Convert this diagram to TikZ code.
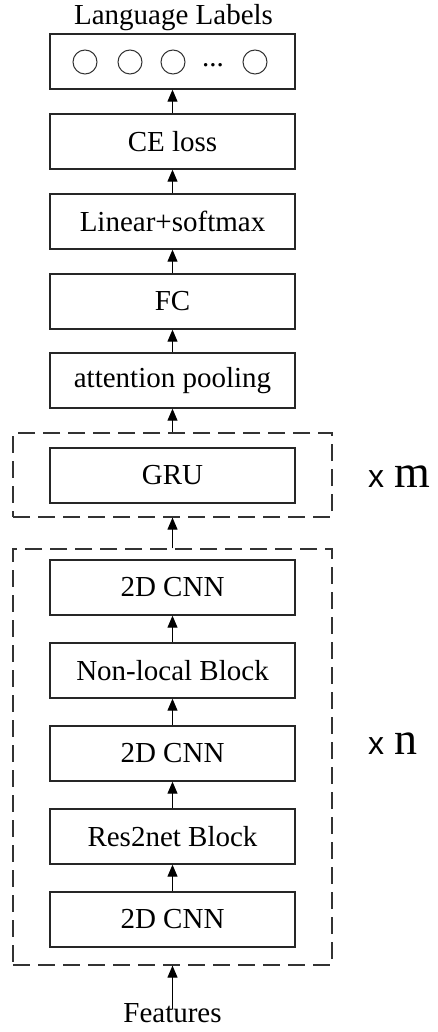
\documentclass[tikz,border=0pt]{standalone}
\usepackage{fontspec}
\setmainfont{Liberation Serif}
\newfontfamily\xsans{Liberation Sans}
\usetikzlibrary{arrows.meta}
\begin{document}
\begin{tikzpicture}[x=1pt,y=-1pt,
  blk/.style={draw=black!85, line width=1.4pt, minimum width=245pt, minimum height=55pt, inner sep=0pt, font=\fontsize{29}{34}\selectfont},
  dbox/.style={draw=black!80, dash pattern=on 17pt off 8pt, line width=1.2pt, inner sep=0pt},
  arr/.style={-{Triangle[width=10pt,length=12pt]}, line width=1.1pt},
  lab/.style={font=\fontsize{29}{34}\selectfont, inner sep=0pt},
  circ/.style={circle, draw=black!80, minimum size=24pt, inner sep=0pt, line width=1pt},
  rep/.style={inner sep=0pt, anchor=base west}]
\useasboundingbox (0,0) rectangle (438,1032);

\node[lab, anchor=base] (ll) at (173.5,25) {Language Labels};
\node[blk] (top) at (172.5,61.5) {};
\node[circ] (o1) at (85,62) {};
\node[circ] (o2) at (130,62) {};
\node[circ] (o3) at (173,62) {};
\node[lab, anchor=base] (dots) at (213,67) {...};
\node[circ] (o4) at (255,62) {};

\node[blk] (ce)  at (172.5,141.5) {CE loss};
\node[blk] (lin) at (172.5,221.5) {Linear+softmax};
\node[blk] (fc)  at (172.5,301.5) {FC};
\node[blk] (att) at (172.5,380.5) {attention pooling};

\node[dbox, minimum width=319pt, minimum height=84pt] (dm) at (172.5,475) {};
\node[blk] (gru) at (172.5,475.5) {GRU};

\node[dbox, minimum width=319pt, minimum height=416pt] (dn) at (172.5,757) {};
\node[blk] (c1)  at (172.5,587.5) {2D CNN};
\node[blk] (nl)  at (172.5,670.5) {Non-local Block};
\node[blk] (c2)  at (172.5,753.5) {2D CNN};
\node[blk] (res) at (172.5,836.5) {Res2net Block};
\node[blk] (c3)  at (172.5,919.5) {2D CNN};

\node[lab, anchor=base] (feat) at (172.5,1022) {Features};

\node[rep] (xm) at (368,487) {{\xsans\fontsize{32}{32}\selectfont x}\hspace{10pt}{\rmfamily\fontsize{46}{46}\selectfont m}};
\node[rep] (xn) at (368,754) {{\xsans\fontsize{32}{32}\selectfont x}\hspace{10pt}{\rmfamily\fontsize{46}{46}\selectfont n}};

\draw[arr] (ce.north) -- (top.south);
\draw[arr] (lin.north) -- (ce.south);
\draw[arr] (fc.north) -- (lin.south);
\draw[arr] (att.north) -- (fc.south);
\draw[arr] (dm.north) -- (att.south);
\draw[arr] (dn.north) -- (dm.south);
\draw[arr] (nl.north) -- (c1.south);
\draw[arr] (c2.north) -- (nl.south);
\draw[arr] (res.north) -- (c2.south);
\draw[arr] (c3.north) -- (res.south);
\draw[arr] ([yshift=-6pt]feat.north) -- (dn.south);
\end{tikzpicture}
\end{document}
